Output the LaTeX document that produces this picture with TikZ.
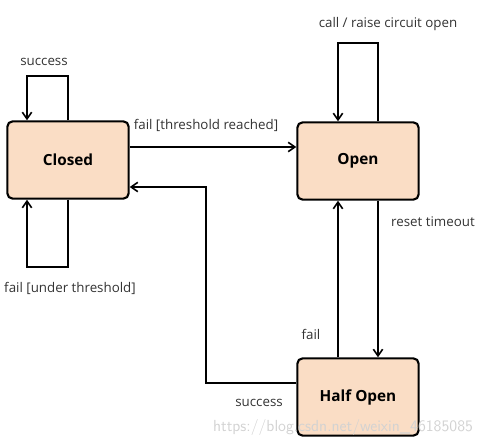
\documentclass[tikz,border=0pt]{standalone}
\usepackage{fontspec}
\setmainfont{Open Sans}
\usetikzlibrary{positioning,arrows.meta}

\definecolor{peach}{RGB}{250,221,197}

\begin{document}
\begin{tikzpicture}[
  x=0.75pt, y=-0.75pt,
  font=\fontsize{10}{12}\selectfont,
  state/.style={draw, line width=1.6pt, rounded corners=4pt, fill=peach,
                minimum width=91pt, minimum height=58pt,
                font=\bfseries\fontsize{11.5}{13}\selectfont},
  arr/.style={-{Straight Barb[length=5pt,width=7pt]}, line width=1.2pt},
  lbl/.style={text=black!80}
]
\useasboundingbox (0,0) rectangle (489,446);

\node[state] (closed) at (68,160) {Closed};
\node[state] (open) at (358,161) {Open};
\node[state] (halfopen) at (358,397) {Half Open};

% closed -> open
\draw[arr] (closed.east |- 0,147) -- (open.west |- 0,147);
\node[lbl] (lthresh) at (206,125) {fail [threshold reached]};

% self loops on closed
\draw[arr] (closed.north -| 68,0) |- (27,76) -- (closed.north -| 27,0);
\node[lbl] (lsucc) at (44,62) {success};
\draw[arr] (closed.south -| 68,0) |- (27,267) -- (closed.south -| 27,0);
\node[lbl] (lunder) at (70,288) {fail [under threshold]};

% self loop on open
\draw[arr] (open.north -| 378,0) |- (338,43) -- (open.north -| 338,0);
\node[lbl] (lcall) at (388,24) {call / raise circuit open};

% open <-> half open
\draw[arr] (open.south -| 378,0) -- (halfopen.north -| 378,0);
\node[lbl] (lreset) at (433,222) {reset timeout};
\draw[arr] (halfopen.north -| 338,0) -- (open.south -| 338,0);
\node[lbl] (lfail) at (311,334) {fail};

% half open -> closed
\draw[arr] (halfopen.west |- 0,383) -| (206,187) -- (closed.east |- 0,187);
\node[lbl] (lsucc2) at (259,403) {success};

\node[text=gray!35, font=\fontsize{12}{14}\selectfont\sffamily] (mark) at (343,427)
  {https://blog.csdn.net/weixin\_46185085};
\end{tikzpicture}
\end{document}
